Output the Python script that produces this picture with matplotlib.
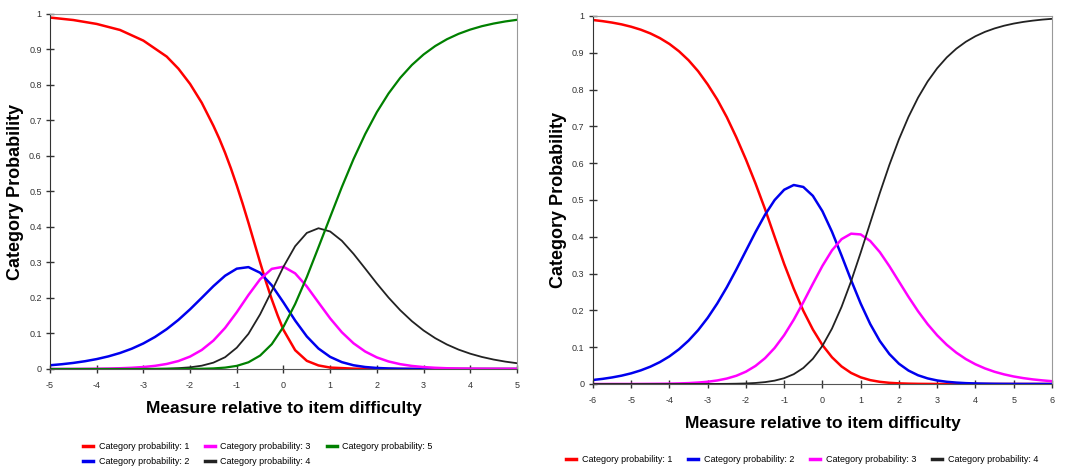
import matplotlib
matplotlib.use("Agg")
import matplotlib.pyplot as plt

plt.rcParams['font.family'] = ['Liberation Sans', 'DejaVu Sans']
plt.rcParams['axes.unicode_minus'] = False

# left panel: five categories, read every 0.25 logit
x_left = [-5, -4.75, -4.5, -4.25, -4, -3.75, -3.5, -3.25, -3, -2.75, -2.5, -2.25, -2, -1.75, -1.5, -1.25,
          -1, -0.75, -0.5, -0.25, 0, 0.25, 0.5, 0.75, 1, 1.25, 1.5, 1.75, 2, 2.25, 2.5, 2.75,
          3, 3.25, 3.5, 3.75, 4, 4.25, 4.5, 4.75, 5]
# category 1 is steep in the middle, so it was read on a finer grid there
x_left_cat1 = [-5, -4.5, -4, -3.5, -3, -2.5, -2.25, -2, -1.75, -1.5, -1.375, -1.25, -1.125, -1,
               -0.875, -0.75, -0.625, -0.5, -0.375, -0.25, -0.125, 0, 0.25, 0.5, 0.75, 1, 1.5, 2, 3, 5]
left_cat1 = [.990, .983, .972, .955, .925, .880, .846, .803, .750, .685, .649, .609, .565, .517,
             .466, .412, .356, .300, .246, .196, .151, .110, .053, .023, .010, .004, .001, .0002, 0, 0]
left_cat2 = [.0105, .0134, .0171, .0219, .0279, .0355, .0451, .0571, .0720, .0903, .1123, .1383, .1681, .2005, .2334, .2627,
             .2826, .2870, .2711, .2357, .1874, .1365, .0917, .0576, .0341, .0193, .0105, .0056, .0029, .0015, .0007, .0004,
             .0002, .0001, 0, 0, 0, 0, 0, 0, 0]
left_cat3 = [.0001, .0002, .0003, .0005, .0008, .0013, .0021, .0034, .0055, .0089, .0142, .0224, .0350, .0536, .0801, .1157,
             .1599, .2084, .2528, .2821, .2880, .2694, .2325, .1873, .1425, .1035, .0724, .0492, .0326, .0212, .0136, .0086,
             .0054, .0034, .0021, .0013, .0008, .0005, .0003, .0002, .0001]
left_cat4 = [0, 0, 0, 0, 0, 0, .0001, .0001, .0003, .0006, .0012, .0024, .0047, .0093, .0179, .0332,
             .0600, .0990, .1540, .2200, .2880, .3459, .3833, .3965, .3873, .3612, .3244, .2829, .2408, .2012, .1656, .1347,
             .1085, .0868, .0690, .0546, .0431, .0339, .0266, .0208, .0163]
left_cat5 = [0, 0, 0, 0, 0, 0, 0, 0, 0, 0, 0, .0001, .0003, .0007, .0016, .0039,
             .0088, .0189, .0378, .0700, .1190, .1830, .2590, .3430, .4281, .5125, .5912, .6618, .7236, .7761, .8201, .8564,
             .8859, .9098, .9289, .9441, .9561, .9657, .9731, .9790, .9836]

# right panel: four categories, read every 0.25 logit
x_right = [-6, -5.75, -5.5, -5.25, -5, -4.75, -4.5, -4.25, -4, -3.75, -3.5, -3.25, -3, -2.75, -2.5, -2.25,
           -2, -1.75, -1.5, -1.25, -1, -0.75, -0.5, -0.25, 0, 0.25, 0.5, 0.75, 1, 1.25, 1.5, 1.75,
           2, 2.25, 2.5, 2.75, 3, 3.25, 3.5, 3.75, 4, 4.25, 4.5, 4.75, 5, 5.25, 5.5, 5.75, 6]
right_cat1 = [.9891, .9860, .9821, .9772, .9708, .9628, .9527, .9399, .9240, .9041, .8797, .8499, .8140, .7730, .7250, .6700,
              .6100, .5450, .4750, .4000, .3260, .2590, .1990, .1480, .1058, .0726, .0477, .0300, .0181, .0105, .0059, .0032,
              .0017, .0009, .0004, .0002, .0001, 0, 0, 0, 0, 0, 0, 0, 0, 0, 0, 0, 0]
right_cat2 = [.0109, .0139, .0178, .0227, .0290, .0370, .0470, .0595, .0751, .0944, .1179, .1462, .1798, .2188, .2629, .3113,
              .3621, .4128, .4600, .4998, .5279, .5407, .5354, .5113, .4695, .4136, .3491, .2821, .2186, .1628, .1169, .0814,
              .0551, .0365, .0237, .0152, .0096, .0060, .0038, .0023, .0014, .0009, .0005, .0003, .0002, .0001, .0001, 0, 0]
right_cat3 = [0, 0, .0001, .0001, .0001, .0002, .0004, .0006, .0009, .0015, .0024, .0039, .0061, .0096, .0148, .0224,
              .0335, .0491, .0702, .0979, .1328, .1747, .2221, .2723, .3210, .3632, .3936, .4085, .4064, .3886, .3584, .3202,
              .2785, .2368, .1977, .1626, .1322, .1065, .0852, .0677, .0536, .0423, .0332, .0261, .0204, .0160, .0125, .0098, .0076]
right_cat4 = [0, 0, 0, 0, 0, 0, 0, 0, 0, 0, 0, .0001, .0001, .0002, .0004, .0008,
              .0015, .0028, .0051, .0091, .0158, .0266, .0435, .0685, .1037, .1506, .2096, .2793, .3569, .4381, .5188, .5953,
              .6647, .7258, .7781, .8220, .8580, .8874, .9111, .9300, .9450, .9569, .9662, .9736, .9794, .9839, .9874, .9902, .9923]

colors = ['#ff0000', '#0000ee', '#ff00ff', '#222222', '#008000']
widths = [1.8, 1.8, 1.8, 1.3, 1.6]
y_ticks = [0, 0.1, 0.2, 0.3, 0.4, 0.5, 0.6, 0.7, 0.8, 0.9, 1]
y_tick_labels = ['0', '0.1', '0.2', '0.3', '0.4', '0.5', '0.6', '0.7', '0.8', '0.9', '1']

fig = plt.figure(figsize=(10.84, 4.76), dpi=100)
ax1 = fig.add_axes([0.0461, 0.2248, 0.4308, 0.7458])
ax2 = fig.add_axes([0.5470, 0.1933, 0.4234, 0.7731])


def style(ax, xmin, xmax):
    ax.set_xlim(xmin, xmax)
    ax.set_ylim(0, 1)
    ax.set_xticks(range(xmin, xmax + 1))
    ax.set_yticks(y_ticks)
    ax.set_yticklabels(y_tick_labels)
    ax.tick_params(direction='inout', length=6, width=1, labelsize=6.5, colors='#333333')
    ax.tick_params(axis='x', pad=6)
    ax.tick_params(axis='y', pad=3)
    for side in ['top', 'right']:
        ax.spines[side].set_color('#999999')
    ax.spines['left'].set_color('#333333')
    ax.spines['bottom'].set_color('#555555')
    ax.set_xlabel('Measure relative to item difficulty', fontsize=12.5, fontweight='bold')
    ax.set_ylabel('Category Probability', fontsize=13, fontweight='bold')


left_x = [x_left_cat1, x_left, x_left, x_left, x_left]
left_series = [left_cat1, left_cat2, left_cat3, left_cat4, left_cat5]
for i, ys in enumerate(left_series):
    ax1.plot(left_x[i], ys, color=colors[i], lw=widths[i], label='Category probability: %d' % (i + 1))
style(ax1, -5, 5)
ax1.xaxis.set_label_coords(0.5, -0.090)
ax1.yaxis.set_label_coords(-0.056, 0.5)

right_series = [right_cat1, right_cat2, right_cat3, right_cat4]
for i, ys in enumerate(right_series):
    ax2.plot(x_right, ys, color=colors[i], lw=widths[i], label='Category probability: %d' % (i + 1))
style(ax2, -6, 6)
ax2.xaxis.set_label_coords(0.5, -0.087)
ax2.yaxis.set_label_coords(-0.057, 0.5)

legend_kw = dict(loc='center', frameon=False, fontsize=6.5, handlelength=1.1,
                 columnspacing=1.8, handletextpad=0.6)

h1, l1 = ax1.get_legend_handles_labels()
leg1 = fig.legend(h1, l1, bbox_to_anchor=(0.238, 0.046), ncol=3, labelspacing=0.75, **legend_kw)
for line in leg1.get_lines():
    line.set_linewidth(2.5)

h2, l2 = ax2.get_legend_handles_labels()
leg2 = fig.legend(h2, l2, bbox_to_anchor=(0.740, 0.034), ncol=4, **legend_kw)
for line in leg2.get_lines():
    line.set_linewidth(2.5)

fig.savefig('out.png', dpi=100)
